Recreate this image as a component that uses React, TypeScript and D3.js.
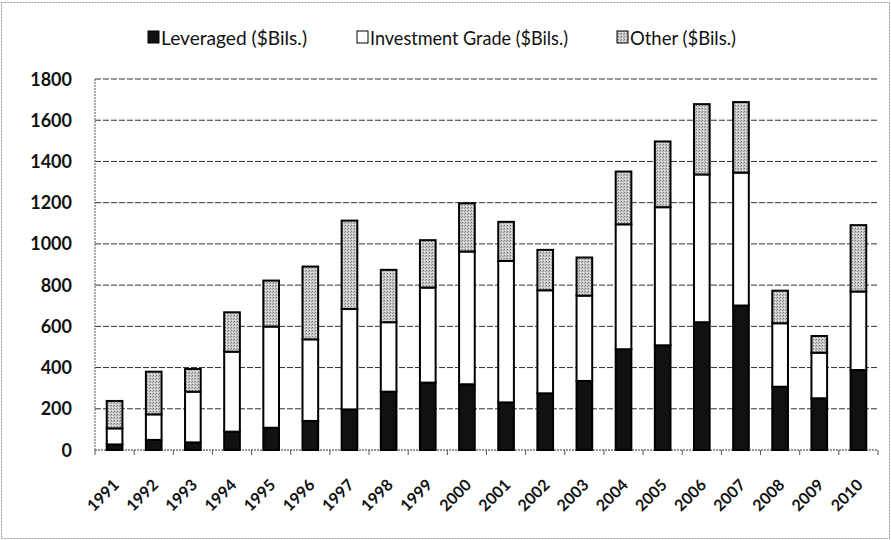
import React from "react";
import * as d3 from "d3";

const years = ["1991","1992","1993","1994","1995","1996","1997","1998","1999","2000","2001","2002","2003","2004","2005","2006","2007","2008","2009","2010"];
const leveraged = [27, 49, 37, 89, 108, 141, 197, 283, 327, 319, 231, 275, 335, 489, 508, 620, 701, 307, 251, 388];
const investmentGrade = [78, 124, 246, 388, 491, 396, 487, 337, 461, 644, 686, 500, 414, 606, 670, 717, 645, 308, 221, 381];
const other = [133, 207, 110, 191, 223, 353, 429, 254, 230, 234, 190, 196, 185, 256, 319, 341, 342, 158, 81, 322];
const yTicks = [0, 200, 400, 600, 800, 1000, 1200, 1400, 1600, 1800];
const seriesNames = ["Leveraged ($Bils.)", "Investment Grade ($Bils.)", "Other ($Bils.)"];

const W = 891, H = 540;
const FONT = "Lato, 'Open Sans', sans-serif";

export default function App() {
  const x = d3.scaleBand<string>().domain(years).range([95, 878]).paddingInner(0.6).paddingOuter(0.3);
  const xb = d3.scaleBand<string>().domain(years).range([95, 878]);
  const y = d3.scaleLinear().domain([0, 1800]).range([450, 79]);

  const table = years.map((yr, i) => ({ year: yr, lev: leveraged[i], ig: investmentGrade[i], oth: other[i] }));
  const stack = d3.stack<any>().keys(["lev", "ig", "oth"])(table);
  const fills = ["#111", "#fff", "url(#stip)"];

  const legendX = [148, 357, 617];
  const legendLen = [146, 198, 106];
  const legendFill = ["#111", "#fff", "url(#stip)"];

  return (
    <svg width={W} height={H} style={{ position: "absolute", left: 0, top: 0, background: "#fff" }}>
      <defs>
        <pattern id="stip" width="3" height="3" patternUnits="userSpaceOnUse">
          <rect width="3" height="3" fill="#c8c8c8" />
          <rect x="0" y="0" width="1" height="1" fill="#777" />
          <rect x="2" y="1" width="1" height="1" fill="#999" />
          <rect x="1" y="2" width="1" height="1" fill="#eee" />
        </pattern>
      </defs>
      <rect x={1.5} y={2.5} width={W - 3} height={H - 4} fill="none" stroke="#999" strokeWidth={1} strokeDasharray="2,1" />

      {/* gridlines */}
      {yTicks.map((t) => (
        <line key={t} x1={95} x2={878} y1={y(t)} y2={y(t)} stroke="#333" strokeWidth={1} strokeDasharray={t === 0 ? "2,1" : "6,2"} />
      ))}
      {/* left axis */}
      <line x1={95} x2={95} y1={y(1800)} y2={y(0)} stroke="#555" strokeDasharray="2,1" />
      {/* x ticks */}
      {years.concat(["end"]).map((yr, i) => {
        const xx = 95 + i * xb.bandwidth();
        return <line key={"t" + i} x1={xx} x2={xx} y1={y(0)} y2={y(0) + 5} stroke="#555" />;
      })}

      {/* y tick labels */}
      {yTicks.map((t) => (
        <text key={"l" + t} x={72} y={y(t) + 6.5} textAnchor="end" fontFamily={FONT} fontWeight="bold" fontSize={18} fill="#111">
          {t}
        </text>
      ))}

      {/* bars */}
      {stack.map((s, si) => (
        <g key={si}>
          {s.map((d: any, i: number) => (
            <rect
              key={i}
              x={x(years[i])}
              y={y(d[1])}
              width={x.bandwidth()}
              height={y(d[0]) - y(d[1])}
              fill={fills[si]}
              stroke="#000"
              strokeWidth={2}
            />
          ))}
        </g>
      ))}

      {/* x labels */}
      {years.map((yr) => {
        const cx = (xb(yr) as number) + xb.bandwidth() / 2 + 5.5;
        const cy = 486;
        return (
          <text key={"x" + yr} x={cx} y={cy} transform={`rotate(-45 ${cx} ${cy})`} textAnchor="end" fontFamily={FONT} fontWeight="bold" fontSize={16} fill="#111">
            {yr}
          </text>
        );
      })}

      {/* legend */}
      {seriesNames.map((n, i) => (
        <g key={"lg" + i}>
          <rect x={legendX[i]} y={31} width={11} height={12} fill={legendFill[i]} stroke="#000" strokeWidth={1} />
          <text x={legendX[i] + 13} y={45} fontFamily={FONT} fontSize={19} fill="#111" textLength={legendLen[i]} lengthAdjust="spacingAndGlyphs">
            {n}
          </text>
        </g>
      ))}
    </svg>
  );
}
